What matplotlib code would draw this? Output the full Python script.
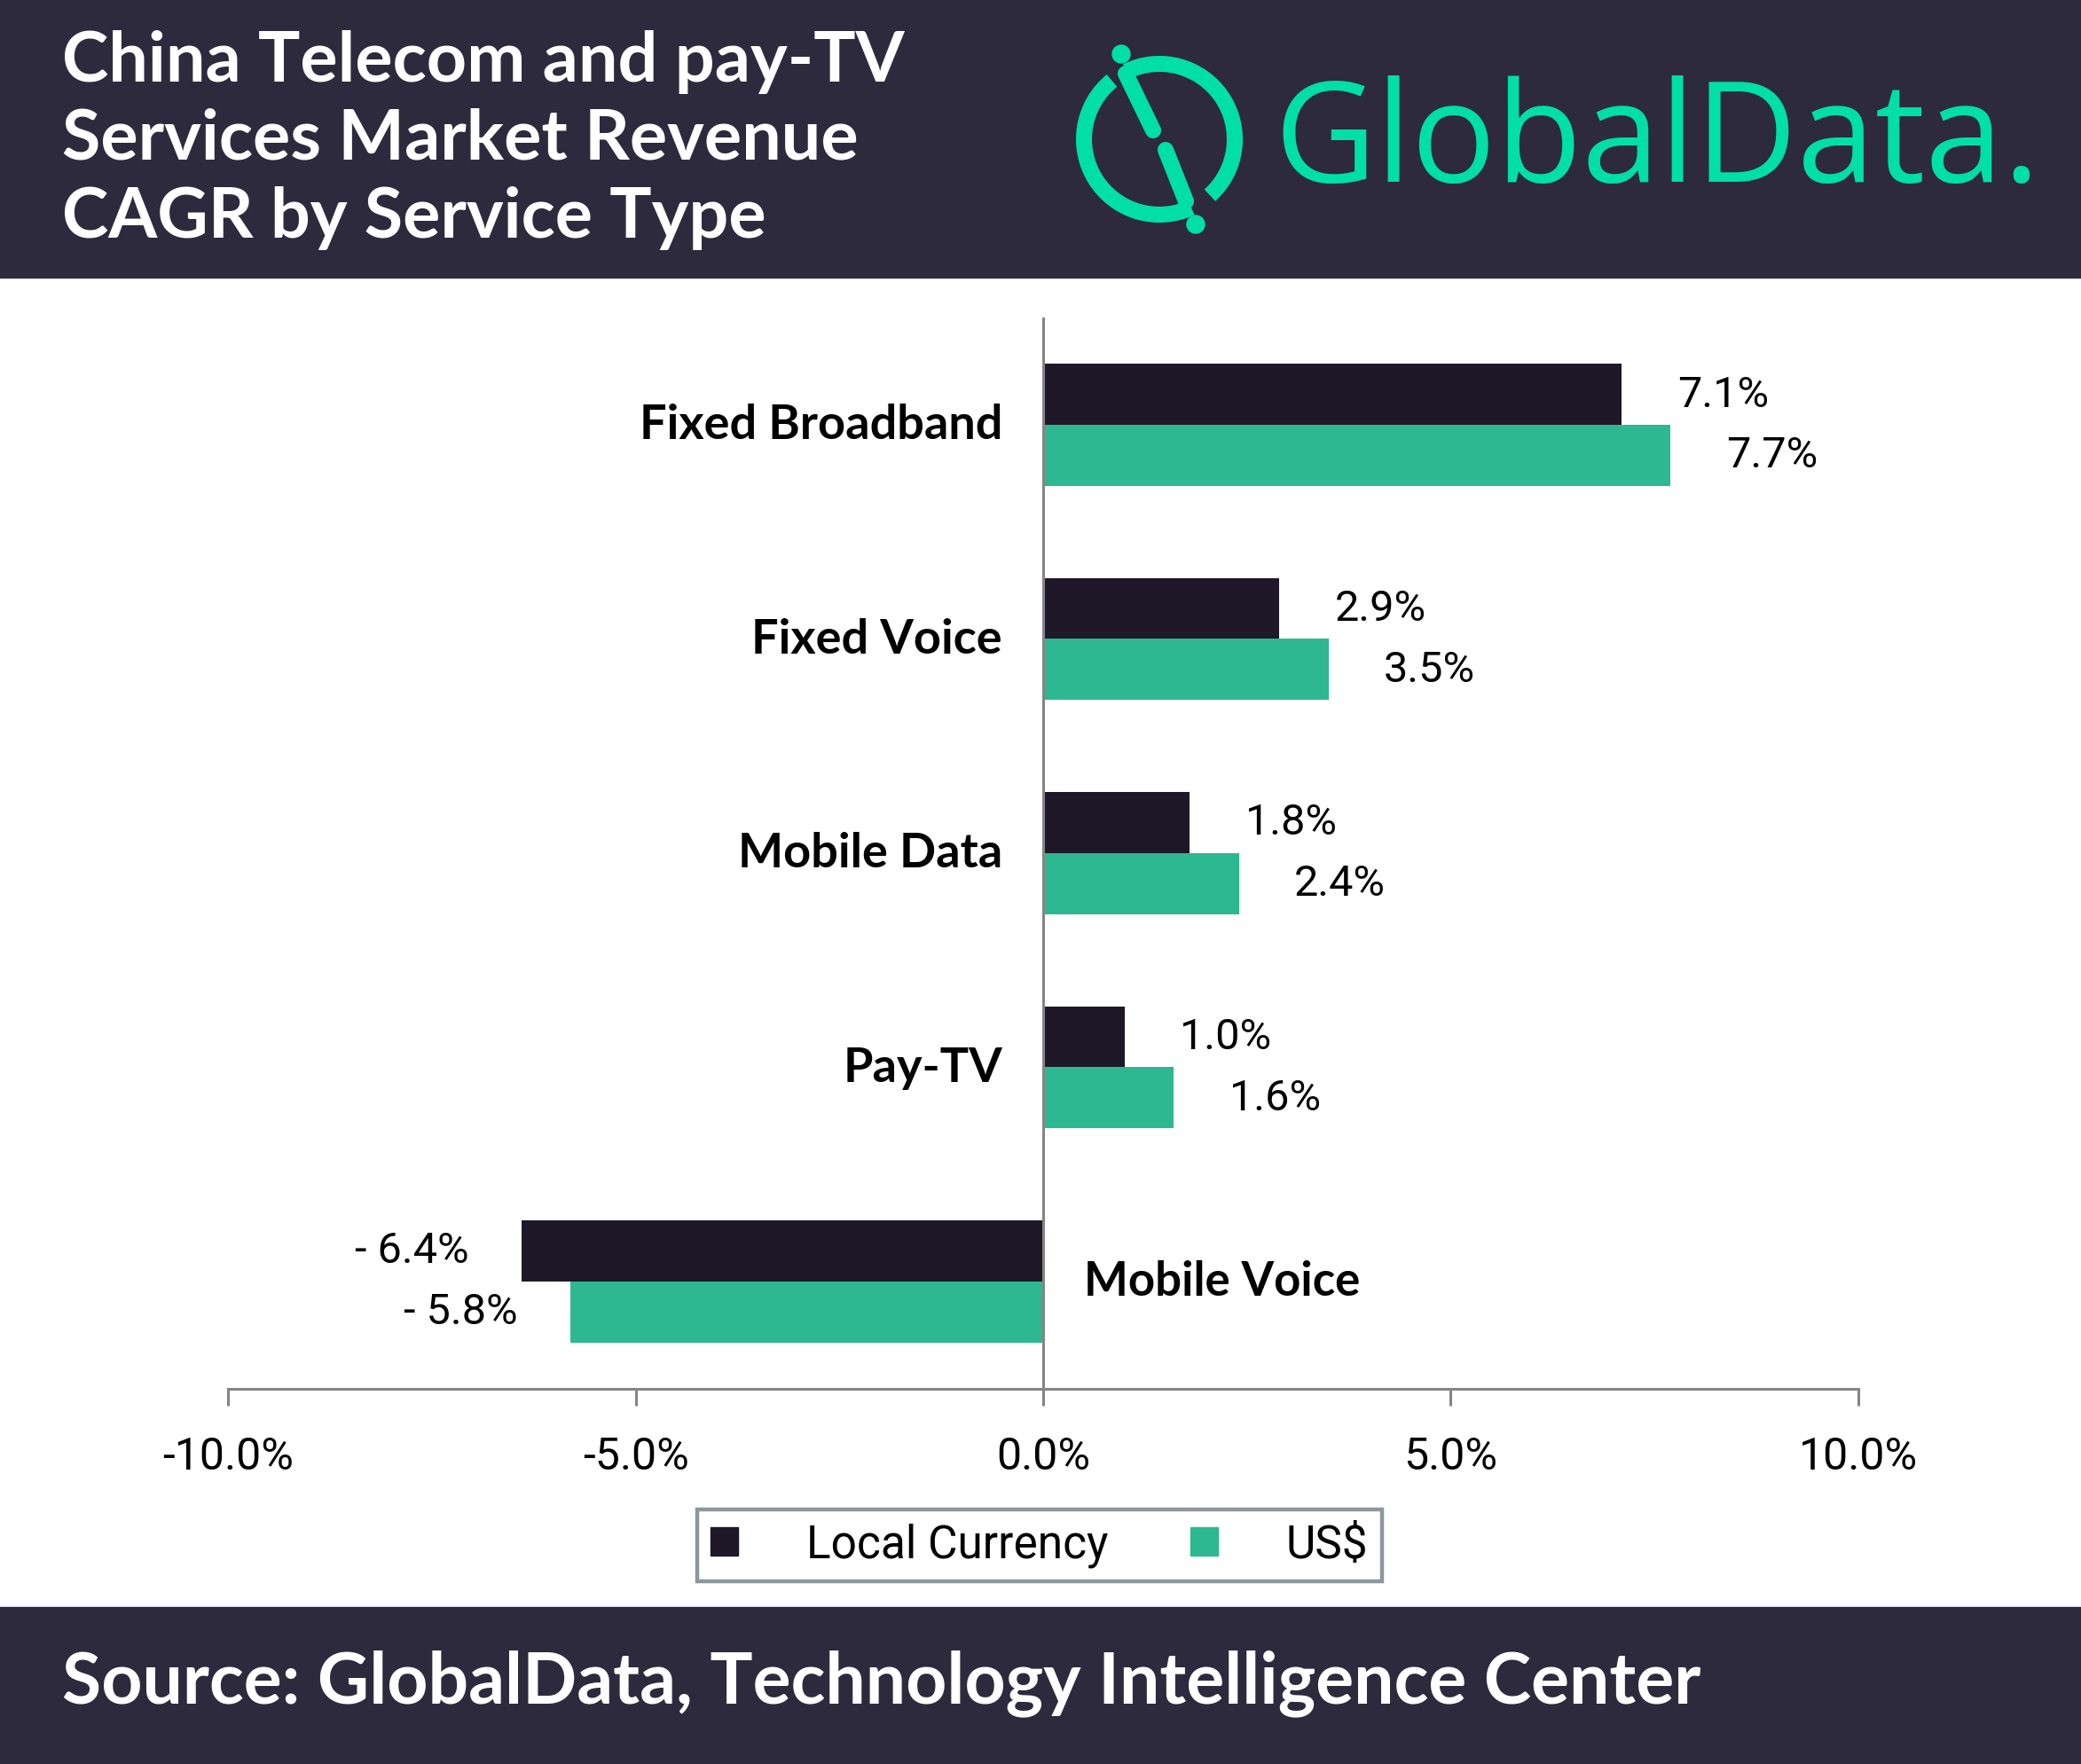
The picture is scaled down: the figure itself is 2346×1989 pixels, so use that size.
import numpy as np
import matplotlib
matplotlib.use("Agg")
import matplotlib.pyplot as plt
from matplotlib.patches import Rectangle, Arc, Circle, Patch

# DATA
categories = ["Fixed Broadband", "Fixed Voice", "Mobile Data", "Pay-TV", "Mobile Voice"]
local_currency = [7.1, 2.9, 1.8, 1.0, -6.4]
usd = [7.7, 3.5, 2.4, 1.6, -5.8]
series_names = ["Local Currency", "US$"]
x_ticks = [-10, -5, 0, 5, 10]
x_tick_labels = ["-10.0%", "-5.0%", "0.0%", "5.0%", "10.0%"]
title = "China Telecom and pay-TV\nServices Market Revenue\nCAGR by Service Type"
source = "Source: GlobalData, Technology Intelligence Center"

# STYLE
DARK = "#1e1828"
GREEN = "#2db892"
NAVY = "#2e2a3e"
LOGO = "#00dfa6"
GREY = "#858585"
TXT = "#000000"
LIGHT = ["Roboto", "DejaVu Sans"]
BOLD = ["Lato", "DejaVu Sans"]

plt.rcParams["font.family"] = LIGHT
plt.rcParams["font.weight"] = "normal"
plt.rcParams["axes.unicode_minus"] = False

W, H = 2346, 1990
fig = plt.figure(figsize=(W / 100, H / 100), dpi=100)

# background layer, pixel coords (y down)
bg = fig.add_axes([0, 0, 1, 1])
bg.set_xlim(0, W)
bg.set_ylim(H, 0)
bg.axis("off")
bg.add_patch(Rectangle((0, 0), W, 314, color=NAVY))
bg.add_patch(Rectangle((0, 1813), W, H - 1813, color=NAVY))

bg.text(70, 158, title, color="white", fontsize=57, family=BOLD, weight="bold",
        va="center", ha="left", linespacing=1.28)
bg.text(70, 1898, source, color="white", fontsize=58, family=BOLD, weight="bold",
        va="center", ha="left")

# logo
bg.text(1436, 205, "GlobalData.", color=LOGO, fontsize=114, family=["Open Sans", "Lato"],
        weight=500, va="baseline", ha="left")
cx, cy, r = 1307, 158, 85
bg.add_patch(Arc((cx, cy), 2 * r, 2 * r, theta1=-116, theta2=48, color=LOGO, lw=13))
bg.add_patch(Arc((cx, cy), 2 * r, 2 * r, theta1=65, theta2=231, color=LOGO, lw=13))
bg.plot([1269, 1300], [84, 148], color=LOGO, lw=13, solid_capstyle="round")
bg.plot([1314, 1337], [170, 228], color=LOGO, lw=13, solid_capstyle="round")
bg.add_patch(Circle((1264, 62), 10, color=LOGO))
bg.add_patch(Circle((1348, 254), 10, color=LOGO))

# MAIN CHART
ax = fig.add_axes([0.1097, 0.2128, 0.7832, 0.6067])
ax.patch.set_alpha(0)
y = np.arange(len(categories))
h = 0.285
ax.barh(y - h / 2, local_currency, height=h, color=DARK)
ax.barh(y + h / 2, usd, height=h, color=GREEN)
ax.set_xlim(-10, 10)
ax.set_ylim(len(categories) - 0.5, -0.5)

for vals, off in [(local_currency, -h / 2), (usd, h / 2)]:
    for i, v in enumerate(vals):
        if v >= 0:
            ax.text(v + 0.68, i + off, f"{v:.1f}%", ha="left", va="center",
                    fontsize=35, color=TXT)
        else:
            ax.text(v - 0.65, i + off, f"- {abs(v):.1f}%", ha="right", va="center",
                    fontsize=35, color=TXT)

for i, c in enumerate(categories):
    if local_currency[i] < 0:
        ax.text(0.5, i, c, ha="left", va="center", fontsize=38, family=BOLD,
                weight="bold", color="black")
    else:
        ax.text(-0.5, i, c, ha="right", va="center", fontsize=39, family=BOLD,
                weight="bold", color="black")

for s in ["top", "right", "left"]:
    ax.spines[s].set_visible(False)
ax.spines["bottom"].set_color(GREY)
ax.spines["bottom"].set_linewidth(2.2)
ax.axvline(0, color=GREY, lw=2.2)
ax.set_xticks(x_ticks)
ax.set_xticklabels(x_tick_labels)
ax.tick_params(axis="x", length=14, width=2.2, color=GREY, pad=24,
               labelsize=36, labelcolor=TXT)
ax.tick_params(axis="y", left=False, labelleft=False)

leg = fig.legend(handles=[Patch(color=DARK), Patch(color=GREEN)], labels=series_names,
                 loc="center", bbox_to_anchor=(0.4994, 0.124), ncol=2, frameon=True,
                 fancybox=False, edgecolor="#6f7c85", fontsize=37,
                 handlelength=0.6, handleheight=0.6, handletextpad=1.5,
                 columnspacing=1.8, borderpad=0.3)
for t in leg.get_texts():
    t.set_color(TXT)
leg.get_frame().set_linewidth(3.2)

fig.savefig("out.png", dpi=100, facecolor="white")
